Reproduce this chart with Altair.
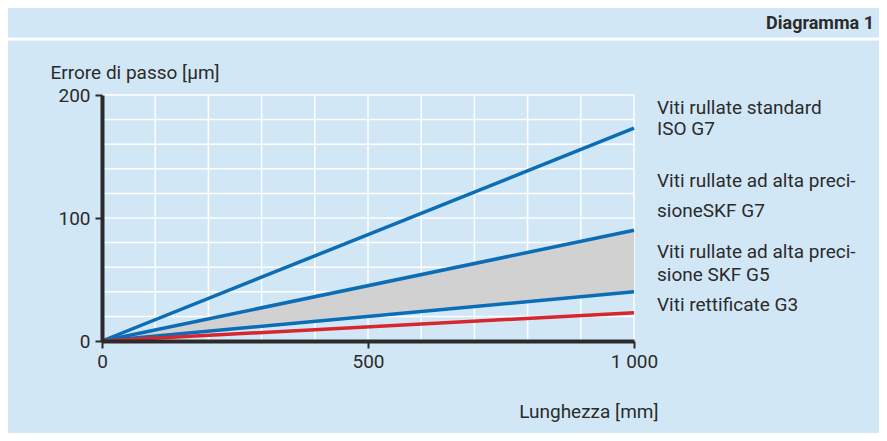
import altair as alt
import pandas as pd

# ---- data ----
lengths = [0, 1000]          # Lunghezza [mm]
iso_g7 = [0, 173]            # Viti rullate standard ISO G7
skf_g7 = [0, 90]             # Viti rullate ad alta precisione SKF G7
skf_g5 = [0, 40]             # Viti rullate ad alta precisione SKF G5
rett_g3 = [0, 23]            # Viti rettificate G3
x_ticks = [0, 500, 1000]
y_ticks = [0, 100, 200]
x_grid = list(range(0, 1001, 100))
y_grid = list(range(0, 201, 20))
series_labels = [
    "Viti rullate standard", "ISO G7",
    "Viti rullate ad alta preci-", "sioneSKF G7",
    "Viti rullate ad alta preci-", "sione SKF G5",
    "Viti rettificate G3",
]
header = "Diagramma 1"
x_title = "Lunghezza [mm]"
y_title = "Errore di passo [µm]"

# ---- styles ----
BG = "#d2e7f6"
BLUE = "#0b6db5"
RED = "#d7262e"
GRAY = "#d1d1d1"
INK = "#2b2b2b"
FONT = "Roboto"
FS = 19
W, H = 532, 246

wide = pd.DataFrame({"len": lengths, "iso": iso_g7, "g7": skf_g7,
                     "g5": skf_g5, "g3": rett_g3})
long = wide.melt("len", var_name="s", value_name="err")

xs = alt.Scale(domain=[0, 1000], nice=False, zero=False)
ys = alt.Scale(domain=[0, 200], nice=False, zero=False)

xaxis = alt.Axis(values=x_ticks, grid=False, domainColor=INK, domainWidth=4,
                 tickColor=INK, tickWidth=2, tickSize=7, labelFont=FONT,
                 labelFontSize=FS, labelColor=INK, labelPadding=4,
                 labelFlush=False,
                 labelExpr="datum.value == 1000 ? '1 000' : datum.label",
                 title=x_title, titleX=556, titleY=70, titleAlign="right",
                 titleBaseline="middle", titleFontWeight="normal",
                 titleFontSize=FS, titleColor=INK, titleFont=FONT, zindex=1)
yaxis = alt.Axis(values=y_ticks, grid=False, domainColor=INK, domainWidth=4,
                 tickColor=INK, tickWidth=2, tickSize=7, labelFont=FONT,
                 labelFontSize=FS, labelColor=INK, labelPadding=5,
                 labelFlush=False,
                 title=y_title, titleAngle=0, titleX=-52, titleY=-23,
                 titleAlign="left", titleBaseline="middle",
                 titleFontWeight="normal", titleFontSize=FS, titleColor=INK,
                 titleFont=FONT, zindex=1)

vgrid = alt.Chart(pd.DataFrame({"len": x_grid})).mark_rule(
    color="white", strokeWidth=1.5).encode(
    x=alt.X("len:Q", scale=xs, axis=xaxis),
    y=alt.Y(datum=0, scale=ys, axis=yaxis),
    y2=alt.Y2(datum=200))
hgrid = alt.Chart(pd.DataFrame({"err": y_grid})).mark_rule(
    color="white", strokeWidth=1.5).encode(
    y=alt.Y("err:Q", scale=ys, axis=yaxis),
    x=alt.X(datum=0, scale=xs, axis=xaxis),
    x2=alt.X2(datum=1000))

band = alt.Chart(wide).mark_area(color=GRAY, opacity=1).encode(
    x=alt.X("len:Q", scale=xs, axis=xaxis),
    y=alt.Y("g5:Q", scale=ys, axis=yaxis),
    y2="g7:Q")

lines = alt.Chart(long).mark_line(strokeWidth=3.5, strokeCap="butt").encode(
    x=alt.X("len:Q", scale=xs, axis=xaxis),
    y=alt.Y("err:Q", scale=ys, axis=yaxis),
    detail="s:N",
    color=alt.Color("s:N", scale=alt.Scale(domain=["iso", "g7", "g5", "g3"],
                                           range=[BLUE, BLUE, BLUE, RED]),
                    legend=None))

one = pd.DataFrame({"k": [0]})
label_y = [19, 40, 92, 122, 163, 186, 216]
texts = []
for t, yy in zip(series_labels, label_y):
    texts.append(alt.Chart(one).mark_text(
        text=t, align="left", baseline="alphabetic", font=FONT, fontSize=FS,
        color=INK).encode(x=alt.value(555), y=alt.value(yy)))

head = alt.Chart(one).mark_text(
    text=header, align="right", baseline="middle", font=FONT, fontSize=18,
    fontWeight="bold", color=INK).encode(x=alt.value(772), y=alt.value(-71))
sep = alt.Chart(one).mark_rule(color="white", strokeWidth=3).encode(
    x=alt.value(-94), x2=alt.value(777), y=alt.value(-56))

chart = alt.layer(vgrid, hgrid, band, lines, *texts, head, sep).properties(
    width=W, height=H,
    padding={"left": 94, "top": 87, "right": 245, "bottom": 92},
    autosize=alt.AutoSizeParams(type="none"),
    background=BG,
).configure_view(stroke=None)

chart.save("out.html", embed_options={"renderer": "svg", "actions": False})
